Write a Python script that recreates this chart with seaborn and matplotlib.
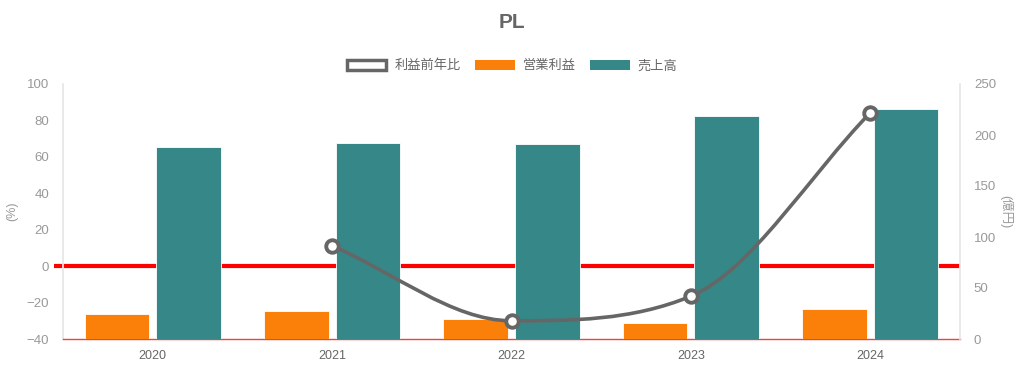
import numpy as np
import pandas as pd
import matplotlib
matplotlib.use("Agg")
import matplotlib.pyplot as plt
from matplotlib.path import Path
from matplotlib.patches import PathPatch, Patch
import seaborn as sns

# data
years = ["2020", "2021", "2022", "2023", "2024"]
sales = [188.5, 192.5, 191.0, 218.6, 225.2]        # 売上高 (億円)
op_profit = [24.2, 27.5, 19.3, 16.0, 29.4]         # 営業利益 (億円)
profit_yoy = [np.nan, 11.1, -30.0, -16.5, 84.2]    # 利益前年比 (%)

orange = "#fb8009"
teal = "#358887"
gray = "#666666"

sns.set_theme(style="white")
plt.rcParams["font.family"] = ["Liberation Sans", "Noto Sans CJK JP", "DejaVu Sans"]

df = pd.DataFrame({
    "year": years * 2,
    "value": op_profit + sales,
    "series": ["営業利益"] * 5 + ["売上高"] * 5,
})

fig = plt.figure(figsize=(10.24, 3.71), dpi=100)
ax = fig.add_axes([63 / 1024, 32 / 371, 897 / 1024, 255 / 371])
ax2 = ax.twinx()
ax3 = ax.twinx()

# left axis (%) with red zero line
ax.set_ylim(-40, 100)
ax.set_yticks(range(-40, 101, 20))
ax.plot([-0.01, 1], [0, 0], color="#ff0000", lw=3, transform=ax.get_yaxis_transform(),
        clip_on=False, zorder=1, solid_capstyle="butt")
ax.set_ylabel("(%)", color="#999999", fontsize=9, labelpad=6)
ax.tick_params(axis="y", colors="#999999", labelsize=9.5, length=0, pad=10)

# bars on right axis (億円)
sns.barplot(data=df, x="year", y="value", hue="series", ax=ax2,
            palette=[orange, teal], width=0.8, gap=0.1, legend=False,
            edgecolor="white", linewidth=0.6, saturation=1)
ax2.set_ylim(0, 250)
ax2.set_yticks(range(0, 251, 50))
ax2.set_ylabel("(億円)", color="#999999", fontsize=9, rotation=270, labelpad=12)
ax2.tick_params(axis="y", colors="#999999", labelsize=9.5, length=0, pad=10)
ax2.set_xlabel("")
ax.set_xlim(-0.5, 4.5)
ax2.set_xlim(-0.5, 4.5)
ax3.set_xlim(-0.5, 4.5)

# smoothed line (monotone cubic drawn as bezier path) on top
ax3.set_ylim(-40, 100)
xs = np.array([i for i, v in enumerate(profit_yoy) if not np.isnan(v)], dtype=float)
ys = np.array([v for v in profit_yoy if not np.isnan(v)], dtype=float)
n = len(xs)
d = np.diff(ys) / np.diff(xs)
m = np.zeros(n)
m[0], m[-1] = d[0], d[-1]
for i in range(1, n - 1):
    m[i] = 0 if d[i - 1] * d[i] <= 0 else (d[i - 1] + d[i]) / 2
for i in range(n - 1):
    if d[i] == 0:
        m[i] = m[i + 1] = 0
        continue
    a, b = m[i] / d[i], m[i + 1] / d[i]
    s = a * a + b * b
    if s > 9:
        t = 3 / np.sqrt(s)
        m[i] = t * a * d[i]
        m[i + 1] = t * b * d[i]
verts = [(xs[0], ys[0])]
codes = [Path.MOVETO]
for i in range(n - 1):
    h = (xs[i + 1] - xs[i]) / 3
    verts += [(xs[i] + h, ys[i] + h * m[i]), (xs[i + 1] - h, ys[i + 1] - h * m[i + 1]),
              (xs[i + 1], ys[i + 1])]
    codes += [Path.CURVE4] * 3
ax3.add_patch(PathPatch(Path(verts, codes), facecolor="none", edgecolor=gray, lw=2.6, zorder=3))
ax3.plot(xs, ys, ls="none", marker="o", ms=9, mfc="white", mec=gray, mew=2.8, zorder=4)
ax3.set_yticks([])
ax3.set_ylabel("")

# axes cosmetics
ax.set_xticks(range(5))
ax.set_xticklabels(years)
ax.tick_params(axis="x", colors=gray, labelsize=9, length=0, pad=8)
ax2.tick_params(axis="x", length=0, labelbottom=False)
ax3.tick_params(axis="x", length=0, labelbottom=False)
for a in (ax, ax2, ax3):
    a.grid(False)
    for sp in a.spines.values():
        sp.set_visible(False)
ax.spines["left"].set_visible(True)
ax.spines["left"].set_color("#e6e6e6")
ax2.spines["right"].set_visible(True)
ax2.spines["right"].set_color("#e6e6e6")
ax.spines["bottom"].set_visible(True)
ax.spines["bottom"].set_color("#f04040")
ax.spines["bottom"].set_linewidth(1)

fig.text(0.5, 1 - 22 / 371, "PL", ha="center", va="center", fontsize=15,
         fontweight="bold", color=gray)

handles = [Patch(facecolor="white", edgecolor=gray, linewidth=2.5),
           Patch(facecolor=orange, edgecolor="none"),
           Patch(facecolor=teal, edgecolor="none")]
fig.legend(handles, ["利益前年比", "営業利益", "売上高"], loc="center",
           bbox_to_anchor=(0.5, 1 - 66 / 371), ncol=3, frameon=False, fontsize=9.5,
           handlelength=3.0, handleheight=0.85, handletextpad=0.6, columnspacing=1.1,
           labelcolor=gray)

fig.savefig("out.png", dpi=100)
